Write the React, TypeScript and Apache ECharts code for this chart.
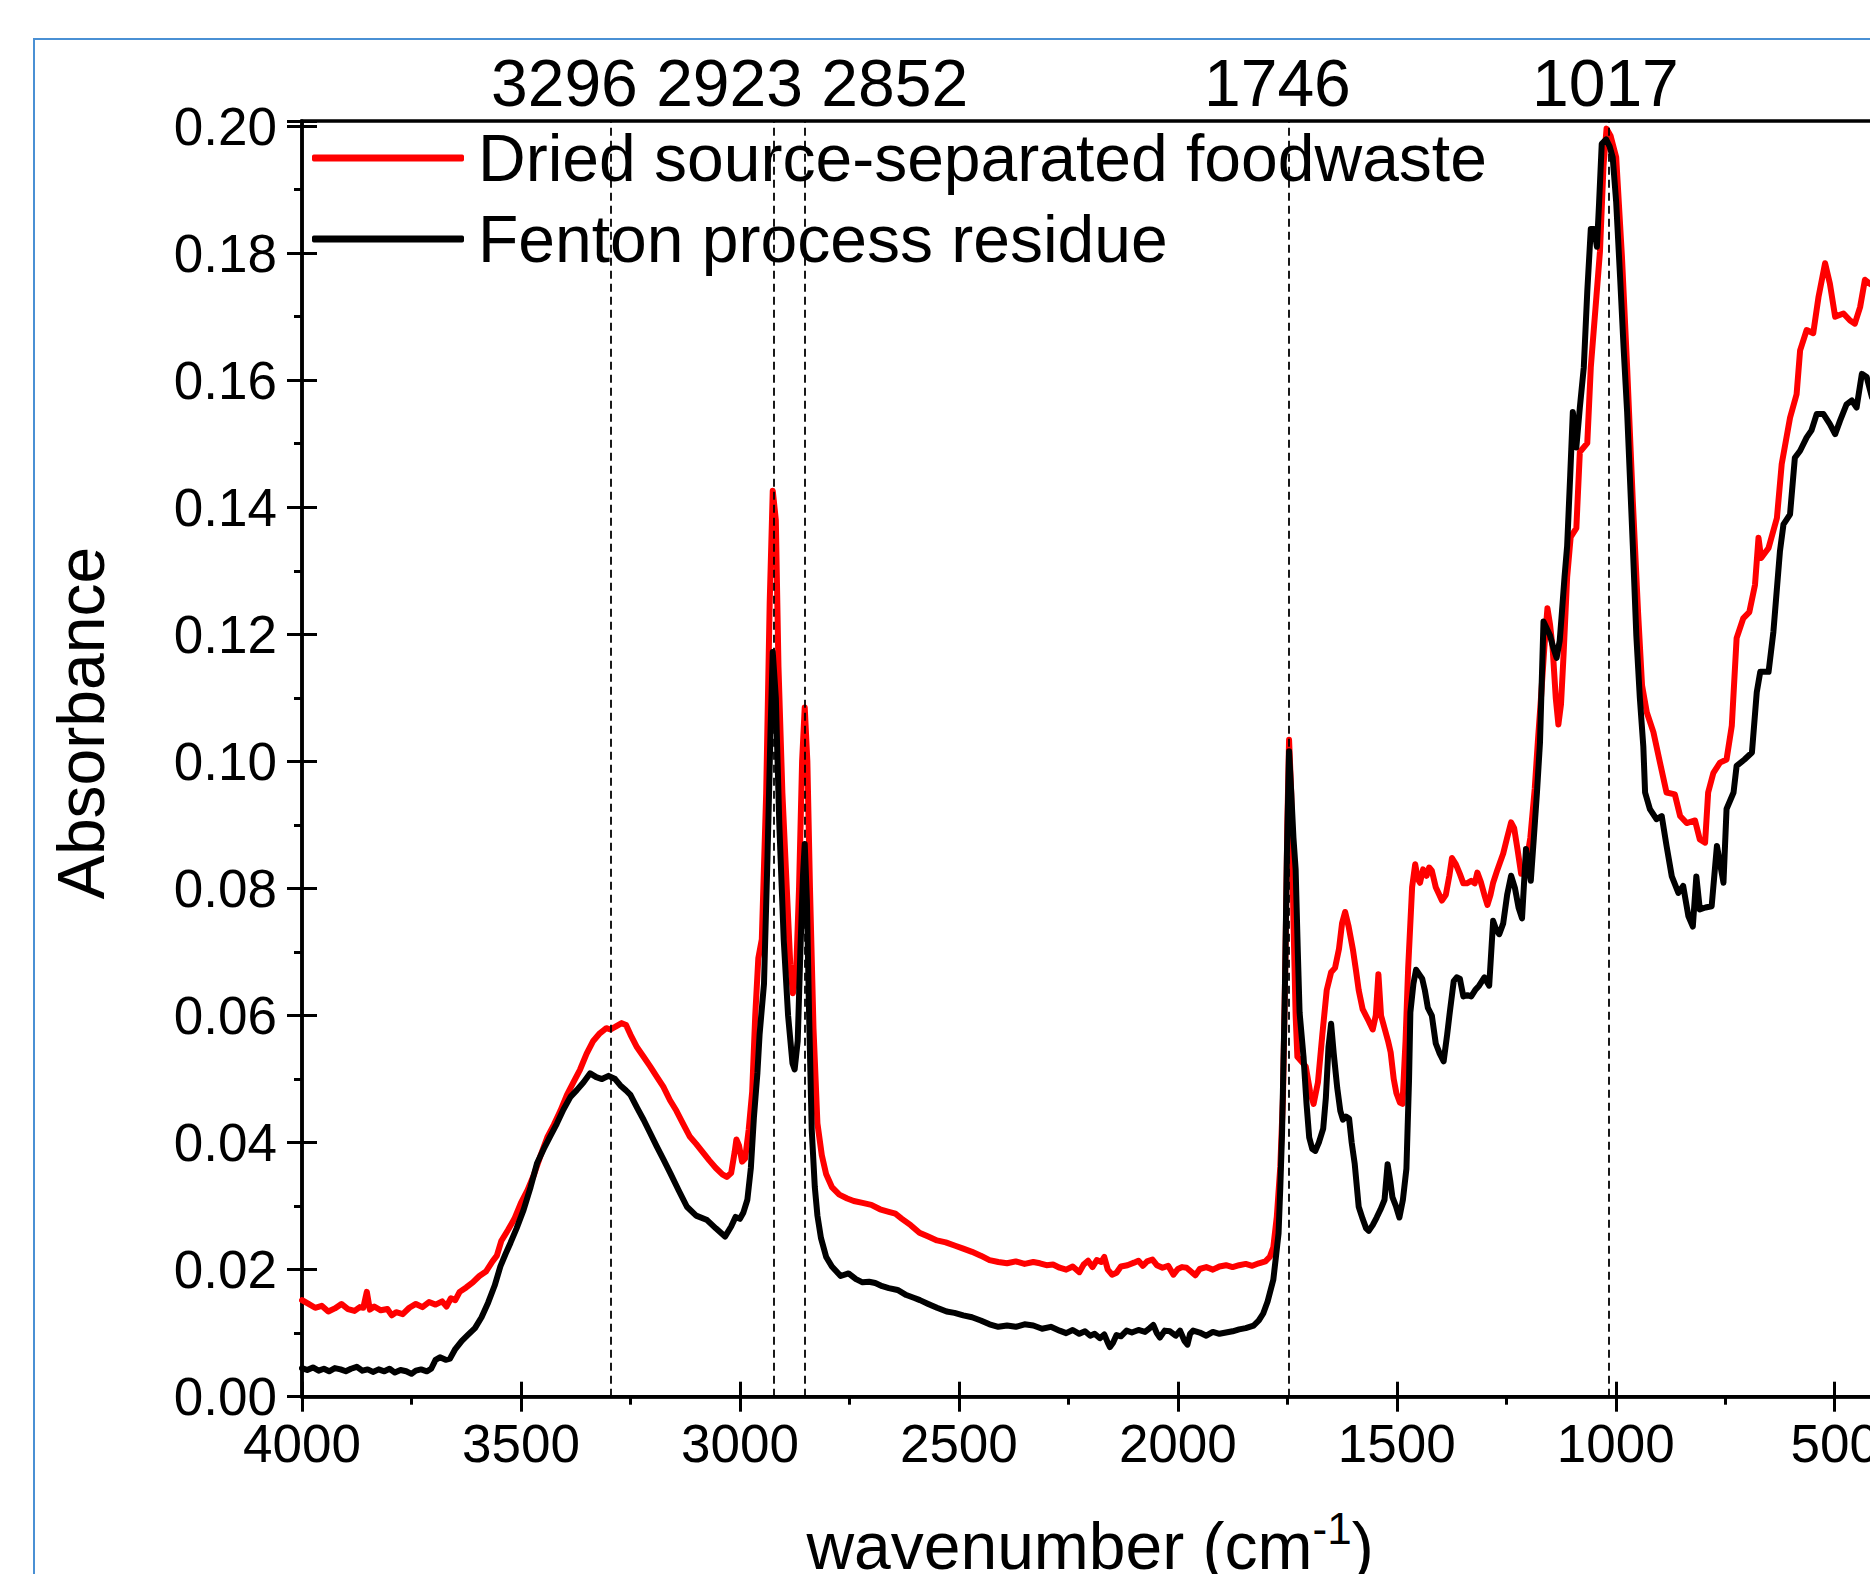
import React, { useEffect, useRef } from "react";
import * as echarts from "echarts";

const FONT = "Arial, 'Liberation Sans', Helvetica, sans-serif";

const seriesNames = ["Dried source-separated foodwaste", "Fenton process residue"];
const peakWavenumbers = [3296, 2923, 2852, 1746, 1017];
const peakLabels = ["3296 2923 2852", "1746", "1017"];
const yTickStep = 0.02;

const redWn = [
  4000, 3985, 3970, 3955, 3940, 3925, 3910, 3895, 3880, 3868, 3860, 3852, 3845, 3835, 3820, 3805, 3795, 3785, 3770, 3755,
  3740, 3725, 3710, 3695, 3680, 3670, 3660, 3650, 3640, 3625, 3610, 3595, 3580, 3565, 3555, 3545, 3530, 3515, 3500, 3485,
  3470, 3455, 3440, 3425, 3410, 3395, 3380, 3365, 3350, 3335, 3320, 3305, 3296, 3285, 3270, 3260, 3250, 3235, 3220, 3205,
  3190, 3175, 3160, 3145, 3130, 3115, 3100, 3085, 3070, 3055, 3040, 3030, 3020, 3012, 3008, 3002, 2995, 2988, 2980, 2972,
  2965, 2958, 2950, 2940, 2932, 2925, 2918, 2912, 2903, 2893, 2885, 2879, 2872, 2865, 2858, 2852, 2846, 2840, 2832, 2823,
  2813, 2803, 2790, 2773, 2755, 2740, 2720, 2700, 2680, 2660, 2645, 2630, 2610, 2590, 2570, 2550, 2530, 2510, 2490, 2470,
  2450, 2430, 2410, 2390, 2370, 2350, 2330, 2315, 2300, 2285, 2270, 2255, 2240, 2225, 2215, 2205, 2195, 2185, 2175, 2168,
  2160, 2150, 2140, 2130, 2115, 2100, 2090, 2080, 2070, 2058, 2048, 2035, 2022, 2010, 2000, 1990, 1980, 1968, 1960, 1950,
  1935, 1920, 1905, 1890, 1875, 1860, 1845, 1830, 1815, 1800, 1790, 1782, 1774, 1766, 1760, 1754, 1750, 1746, 1741, 1736,
  1731, 1727, 1718, 1708, 1698, 1690, 1680, 1670, 1660, 1650, 1641, 1632, 1625, 1618, 1610, 1600, 1593, 1587, 1578, 1564,
  1555, 1548, 1542, 1536, 1528, 1520, 1514, 1507, 1501, 1493, 1487, 1480, 1474, 1465, 1458, 1452, 1447, 1440, 1432, 1426,
  1420, 1411, 1403, 1397, 1388, 1380, 1374, 1365, 1356, 1348, 1340, 1330, 1322, 1316, 1308, 1300, 1293, 1286, 1280, 1270,
  1257, 1248, 1239, 1232, 1224, 1216, 1205, 1195, 1185, 1178, 1171, 1163, 1156, 1150, 1144, 1137, 1131, 1125, 1119, 1111,
  1103, 1090, 1082, 1065, 1057, 1044, 1036, 1028, 1021, 1012, 999, 986, 974, 961, 949, 940, 929, 914, 899, 884,
  865, 853, 838, 819, 808, 796, 789, 777, 762, 747, 735, 724, 709, 695, 682, 674, 668, 651, 632, 621,
  602, 587, 579, 564, 549, 537, 522, 511, 499, 480, 465, 454, 442, 431, 420, 410,
];
const redAbs = [
  0.0152, 0.0146, 0.014, 0.0143, 0.0134, 0.0139, 0.0146, 0.0138, 0.0135, 0.0141, 0.014, 0.0165, 0.0137, 0.0142, 0.0136, 0.0138, 0.0128, 0.0133, 0.013, 0.014,
  0.0146, 0.0141, 0.0149, 0.0145, 0.015, 0.0142, 0.0155, 0.0152, 0.0165, 0.0172, 0.018, 0.019, 0.0197, 0.0213, 0.0222, 0.0245, 0.0262, 0.028, 0.0305, 0.0325,
  0.035, 0.038, 0.0408, 0.0428, 0.045, 0.0475, 0.0495, 0.0515, 0.054, 0.056, 0.0572, 0.058, 0.0578, 0.0582, 0.0588, 0.0585, 0.057, 0.055, 0.0535, 0.052,
  0.0504, 0.0488, 0.0467, 0.045, 0.043, 0.041, 0.0398, 0.0385, 0.0372, 0.036, 0.035, 0.0346, 0.0352, 0.0385, 0.0405, 0.0395, 0.037, 0.0375, 0.042, 0.048,
  0.06, 0.069, 0.072, 0.095, 0.125, 0.1426, 0.138, 0.115, 0.095, 0.08, 0.068, 0.0635, 0.066, 0.08, 0.1, 0.1085, 0.1, 0.08, 0.058, 0.043,
  0.038, 0.035, 0.033, 0.0318, 0.0312, 0.0308, 0.0305, 0.0302, 0.0295, 0.0291, 0.0288, 0.028, 0.027, 0.0258, 0.0252, 0.0246, 0.0243, 0.0238, 0.0233, 0.0228,
  0.0222, 0.0215, 0.0212, 0.021, 0.0213, 0.0209, 0.0212, 0.021, 0.0207, 0.0208, 0.0203, 0.02, 0.0205, 0.0196, 0.0208, 0.0214, 0.0204, 0.0215, 0.0212, 0.022,
  0.02, 0.0192, 0.0195, 0.0205, 0.0207, 0.0211, 0.0214, 0.0206, 0.0213, 0.0216, 0.0207, 0.0203, 0.0206, 0.0192, 0.0201, 0.0204, 0.0203, 0.0196, 0.0191, 0.0201,
  0.0204, 0.02, 0.0205, 0.0207, 0.0204, 0.0207, 0.0209, 0.0206, 0.021, 0.0213, 0.022, 0.0235, 0.0283, 0.0362, 0.047, 0.07, 0.09, 0.1034, 0.095, 0.075,
  0.06, 0.0535, 0.0528, 0.052, 0.048, 0.0461, 0.0495, 0.057, 0.064, 0.0668, 0.0675, 0.0705, 0.0745, 0.0763, 0.074, 0.0703, 0.067, 0.064, 0.061, 0.0591,
  0.0578, 0.06, 0.0665, 0.06, 0.058, 0.056, 0.0542, 0.05, 0.0478, 0.0463, 0.0461, 0.056, 0.0675, 0.0802, 0.0838, 0.0815, 0.0809, 0.083, 0.082, 0.0833,
  0.0828, 0.0802, 0.079, 0.0781, 0.079, 0.082, 0.0848, 0.0838, 0.0823, 0.0808, 0.0808, 0.0812, 0.0808, 0.0825, 0.081, 0.079, 0.0774, 0.079, 0.0809, 0.083,
  0.0855, 0.088, 0.0904, 0.0895, 0.086, 0.0823, 0.0837, 0.088, 0.0957, 0.103, 0.1097, 0.118, 0.1241, 0.1215, 0.1177, 0.11, 0.1058, 0.109, 0.117, 0.129,
  0.1353, 0.1367, 0.1487, 0.1501, 0.162, 0.1733, 0.1803, 0.1937, 0.1996, 0.1985, 0.1951, 0.1796, 0.162, 0.1409, 0.1234, 0.112, 0.1077, 0.1046, 0.0998, 0.0951,
  0.0948, 0.0914, 0.0903, 0.0907, 0.0877, 0.0872, 0.0951, 0.0982, 0.0998, 0.1003, 0.1056, 0.1194, 0.1225, 0.1235, 0.1278, 0.1352, 0.132, 0.1336, 0.1383, 0.1468,
  0.1541, 0.1578, 0.1647, 0.1679, 0.1674, 0.1731, 0.1784, 0.1752, 0.17, 0.1705, 0.1694, 0.1689, 0.1715, 0.1758, 0.1752, 0.1748,
];

const blackWn = [
  4000, 3988, 3975, 3962, 3950, 3938, 3925, 3912, 3900, 3888, 3875, 3862, 3850, 3838, 3825, 3812, 3800, 3788, 3775, 3762,
  3750, 3740, 3728, 3715, 3705, 3695, 3685, 3672, 3662, 3650, 3635, 3620, 3605, 3590, 3575, 3560, 3547, 3535, 3524, 3510,
  3494, 3478, 3463, 3448, 3433, 3418, 3403, 3387, 3372, 3357, 3342, 3328, 3315, 3300, 3285, 3273, 3260, 3250, 3235, 3220,
  3205, 3190, 3175, 3159, 3140, 3121, 3100, 3075, 3055, 3034, 3020, 3010, 3000, 2992, 2983, 2975, 2968, 2960, 2955, 2945,
  2937, 2930, 2925, 2918, 2910, 2900, 2890, 2880, 2875, 2868, 2862, 2856, 2852, 2847, 2842, 2836, 2829, 2823, 2815, 2803,
  2790, 2770, 2752, 2735, 2720, 2705, 2691, 2675, 2660, 2640, 2620, 2600, 2589, 2570, 2550, 2528, 2510, 2490, 2470, 2450,
  2430, 2410, 2390, 2370, 2350, 2330, 2310, 2290, 2270, 2255, 2240, 2225, 2212, 2200, 2190, 2178, 2168, 2160, 2155, 2148,
  2140, 2130, 2117, 2105, 2090, 2075, 2064, 2056, 2048, 2041, 2030, 2018, 2005, 1995, 1985, 1978, 1972, 1965, 1950, 1935,
  1920, 1905, 1890, 1875, 1860, 1845, 1827, 1815, 1805, 1795, 1782, 1776, 1770, 1766, 1762, 1756, 1751, 1746, 1741, 1736,
  1731, 1726, 1722, 1713, 1706, 1700, 1693, 1686, 1678, 1668, 1662, 1656, 1650, 1644, 1636, 1629, 1623, 1616, 1609, 1603,
  1596, 1587, 1578, 1570, 1564, 1555, 1546, 1537, 1528, 1521, 1515, 1510, 1502, 1494, 1486, 1478, 1472, 1469, 1462, 1456,
  1449, 1442, 1436, 1429, 1420, 1411, 1402, 1393, 1385, 1379, 1370, 1363, 1356, 1348, 1339, 1330, 1321, 1312, 1300, 1289,
  1280, 1273, 1266, 1257, 1248, 1239, 1230, 1222, 1214, 1205, 1199, 1194, 1187, 1180, 1173, 1165, 1158, 1150, 1143, 1135,
  1128, 1123, 1117, 1111, 1104, 1098, 1090, 1082, 1073, 1065, 1057, 1049, 1043, 1038, 1032, 1022, 1014, 1007, 999, 990,
  982, 974, 961, 953, 945, 937, 933, 922, 907, 895, 884, 872, 857, 846, 834, 824, 816, 808, 795, 781,
  769, 754, 747, 731, 724, 706, 689, 678, 670, 651, 640, 625, 617, 602, 591, 579, 564, 553, 541, 526,
  511, 499, 488, 473, 461, 450, 438, 427, 415,
];
const blackAbs = [
  0.0045, 0.0042, 0.0046, 0.0041, 0.0044, 0.004, 0.0045, 0.0043, 0.004, 0.0044, 0.0047, 0.0041, 0.0043, 0.0039, 0.0043, 0.004, 0.0044, 0.0038, 0.0042, 0.004,
  0.0036, 0.0041, 0.0043, 0.004, 0.0044, 0.0058, 0.0062, 0.0058, 0.006, 0.0075, 0.0088, 0.0098, 0.0108, 0.0125, 0.0148, 0.0175, 0.0205, 0.0225, 0.0242, 0.0265,
  0.0294, 0.033, 0.0368, 0.039, 0.041, 0.043, 0.0452, 0.0472, 0.0483, 0.0495, 0.0509, 0.0503, 0.05, 0.0505, 0.05, 0.049, 0.0482, 0.0475, 0.0455, 0.0436,
  0.0415, 0.0394, 0.0374, 0.0352, 0.0325, 0.0299, 0.0285, 0.0278, 0.0265, 0.0252, 0.0268, 0.0283, 0.028, 0.029, 0.031, 0.036, 0.044, 0.051, 0.0571, 0.065,
  0.085, 0.105, 0.1172, 0.11, 0.09, 0.072, 0.06, 0.0525, 0.0515, 0.056, 0.07, 0.082, 0.087, 0.078, 0.06, 0.042, 0.033, 0.0285, 0.025, 0.022,
  0.0205, 0.019, 0.0194, 0.0185, 0.018, 0.0181, 0.0179, 0.0174, 0.0171, 0.0168, 0.016, 0.0155, 0.0152, 0.0146, 0.014, 0.0134, 0.0132, 0.0128, 0.0125, 0.012,
  0.0114, 0.011, 0.0112, 0.011, 0.0114, 0.0112, 0.0107, 0.011, 0.0104, 0.01, 0.0105, 0.0099, 0.0103, 0.0096, 0.0099, 0.0092, 0.0098, 0.0085, 0.0078, 0.0085,
  0.0097, 0.0095, 0.0104, 0.0101, 0.0105, 0.0102, 0.0108, 0.0113, 0.01, 0.0093, 0.0104, 0.0103, 0.0096, 0.0104, 0.0088, 0.0082, 0.0099, 0.0104, 0.0101, 0.0096,
  0.0102, 0.0099, 0.0101, 0.0103, 0.0106, 0.0108, 0.0112, 0.012, 0.0131, 0.015, 0.0184, 0.022, 0.0257, 0.033, 0.0415, 0.062, 0.085, 0.1016, 0.095, 0.088,
  0.083, 0.07, 0.0605, 0.0535, 0.046, 0.0408, 0.039, 0.0387, 0.04, 0.0422, 0.047, 0.055, 0.0587, 0.054, 0.0486, 0.045, 0.0436, 0.0441, 0.0438, 0.04,
  0.0366, 0.0299, 0.028, 0.0265, 0.0261, 0.027, 0.0282, 0.0295, 0.031, 0.0366, 0.034, 0.0314, 0.03, 0.0282, 0.031, 0.0359, 0.05, 0.0605, 0.065, 0.0672,
  0.0665, 0.0658, 0.064, 0.0612, 0.06, 0.0556, 0.054, 0.0528, 0.057, 0.0605, 0.0654, 0.066, 0.0658, 0.063, 0.0632, 0.063, 0.064, 0.0647, 0.066, 0.0647,
  0.0749, 0.0735, 0.0728, 0.0745, 0.079, 0.082, 0.08, 0.077, 0.0753, 0.0862, 0.0835, 0.0812, 0.088, 0.095, 0.103, 0.122, 0.121, 0.1198, 0.118, 0.1163,
  0.119, 0.1234, 0.129, 0.1339, 0.145, 0.155, 0.1494, 0.1557, 0.162, 0.174, 0.1838, 0.1838, 0.181, 0.188, 0.1972, 0.1979, 0.1968, 0.1951, 0.188, 0.1761,
  0.165, 0.155, 0.1339, 0.1198, 0.11, 0.1023, 0.0951, 0.0925, 0.0909, 0.0914, 0.0867, 0.0819, 0.0793, 0.0804, 0.0756, 0.074, 0.0819, 0.0767, 0.077, 0.0772,
  0.0867, 0.0809, 0.0925, 0.0951, 0.0993, 0.1003, 0.1014, 0.1109, 0.1141, 0.1141, 0.1204, 0.1331, 0.1373, 0.1389, 0.1478, 0.1489, 0.151, 0.1521, 0.1547, 0.1547,
  0.1531, 0.1515, 0.1536, 0.1562, 0.1568, 0.1557, 0.161, 0.1605, 0.1573,
];

const W = 1950;
const H = 1574;

export default function App() {
  const ref = useRef<HTMLDivElement>(null);

  useEffect(() => {
    document.body.style.margin = "0";
    if (!ref.current) return;
    const chart = echarts.init(ref.current, null, { renderer: "svg", width: W, height: H });

    const redData = redWn.map((w, i) => [w, redAbs[i]]);
    const blackData = blackWn.map((w, i) => [w, blackAbs[i]]);

    const xCommon = {
      type: "value",
      inverse: true,
      min: 400,
      max: 4000,
      splitNumber: 6,
      splitLine: { show: false },
    };
    const yCommon = {
      type: "value",
      min: 0,
      max: 0.2008,
      interval: yTickStep,
      splitLine: { show: false },
    };
    const AXW = 3.5;
    const TKW = 3;
    const LW = 6;

    chart.setOption({
      animation: false,
      backgroundColor: "#ffffff",
      grid: {
        left: 302,
        top: 121,
        right: W - 1878.5,
        bottom: H - 1396.7,
        show: true,
        borderColor: "#000",
        borderWidth: AXW,
        backgroundColor: "transparent",
        containLabel: false,
        outerBoundsMode: "none",
      },
      legend: {
        orient: "vertical",
        left: 312,
        top: 125,
        padding: 0,
        itemGap: 15,
        itemWidth: 152,
        itemHeight: 7,
        icon: "roundRect",
        data: seriesNames,
        textStyle: { fontSize: 66, fontFamily: FONT, color: "#000", padding: [0, 0, 0, 9] },
      },
      xAxis: [
        {
          ...xCommon,
          position: "bottom",
          axisLine: { show: true, onZero: false, lineStyle: { color: "#000", width: AXW } },
          axisTick: { show: true, inside: false, length: 15, lineStyle: { color: "#000", width: TKW } },
          minorTick: { show: true, splitNumber: 2, length: 8, lineStyle: { color: "#000", width: TKW } },
          axisLabel: {
            show: true,
            margin: 20,
            fontSize: 53,
            fontFamily: FONT,
            color: "#000",
            hideOverlap: false,
            formatter: (v: number) => (Math.abs(v / 500 - Math.round(v / 500)) < 1e-6 ? String(v) : ""),
          },
        },
        {
          ...xCommon,
          position: "bottom",
          axisLine: { show: false, onZero: false },
          axisTick: { show: true, inside: true, length: 15, lineStyle: { color: "#000", width: TKW } },
          axisLabel: { show: false },
        },
      ],
      yAxis: [
        {
          ...yCommon,
          position: "left",
          axisLine: { show: true, onZero: false, lineStyle: { color: "#000", width: AXW } },
          axisTick: { show: true, inside: false, length: 15, lineStyle: { color: "#000", width: TKW } },
          minorTick: { show: true, splitNumber: 2, length: 8, lineStyle: { color: "#000", width: TKW } },
          axisLabel: {
            show: true,
            margin: 25,
            fontSize: 53,
            fontFamily: FONT,
            color: "#000",
            formatter: (v: number) => {
              const k = v / yTickStep;
              return Math.abs(k - Math.round(k)) < 1e-6 ? v.toFixed(2) : "";
            },
          },
        },
        {
          ...yCommon,
          position: "left",
          axisLine: { show: false, onZero: false },
          axisTick: { show: true, inside: true, length: 15, lineStyle: { color: "#000", width: TKW } },
          axisLabel: { show: false },
        },
      ],
      series: [
        {
          name: seriesNames[0],
          type: "line",
          xAxisIndex: 0,
          yAxisIndex: 0,
          data: redData,
          showSymbol: false,
          symbol: "none",
          color: "#ff0000",
          itemStyle: { color: "#ff0000" },
          lineStyle: { color: "#ff0000", width: LW, join: "round", cap: "round" },
          markLine: {
            silent: true,
            symbol: ["none", "none"],
            label: { show: false },
            lineStyle: { color: "#000", width: 1.8, type: [8, 5] },
            data: peakWavenumbers.map((w) => ({ xAxis: w })),
          },
        },
        {
          name: seriesNames[1],
          type: "line",
          xAxisIndex: 0,
          yAxisIndex: 0,
          data: blackData,
          showSymbol: false,
          symbol: "none",
          color: "#000000",
          itemStyle: { color: "#000000" },
          lineStyle: { color: "#000000", width: LW, join: "round", cap: "round" },
        },
      ],
      graphic: [
        {
          type: "rect",
          silent: true,
          z: -10,
          shape: { x: 34, y: 39, width: 2200, height: 2200 },
          style: { fill: "none", stroke: "#4a90d4", lineWidth: 2 },
        },
        {
          type: "text",
          x: 491,
          y: 83,
          style: { text: peakLabels[0], fontSize: 66, fontFamily: FONT, fill: "#000", verticalAlign: "middle", align: "left" },
        },
        {
          type: "text",
          x: 1204,
          y: 83,
          style: { text: peakLabels[1], fontSize: 66, fontFamily: FONT, fill: "#000", verticalAlign: "middle", align: "left" },
        },
        {
          type: "text",
          x: 1532,
          y: 83,
          style: { text: peakLabels[2], fontSize: 66, fontFamily: FONT, fill: "#000", verticalAlign: "middle", align: "left" },
        },
        {
          type: "text",
          x: 81,
          y: 723,
          rotation: Math.PI / 2,
          style: { text: "Absorbance", fontSize: 66, fontFamily: FONT, fill: "#000", verticalAlign: "middle", align: "center" },
        },
        {
          type: "text",
          x: 1090,
          y: 1546,
          style: {
            text: "{a|wavenumber (cm}{s|-1}{a|)}",
            align: "center",
            verticalAlign: "middle",
            fill: "#000",
            rich: {
              a: { fontSize: 66, fontFamily: FONT, fill: "#000", lineHeight: 80 },
              s: { fontSize: 44, fontFamily: FONT, fill: "#000", verticalAlign: "top", lineHeight: 80 },
            },
          },
        },
      ],
    });

    return () => chart.dispose();
  }, []);

  return (
    <div style={{ position: "fixed", left: 0, top: 0, width: 1870, height: 1574, overflow: "hidden", background: "#fff" }}>
      <div ref={ref} style={{ width: W, height: H }} />
    </div>
  );
}
